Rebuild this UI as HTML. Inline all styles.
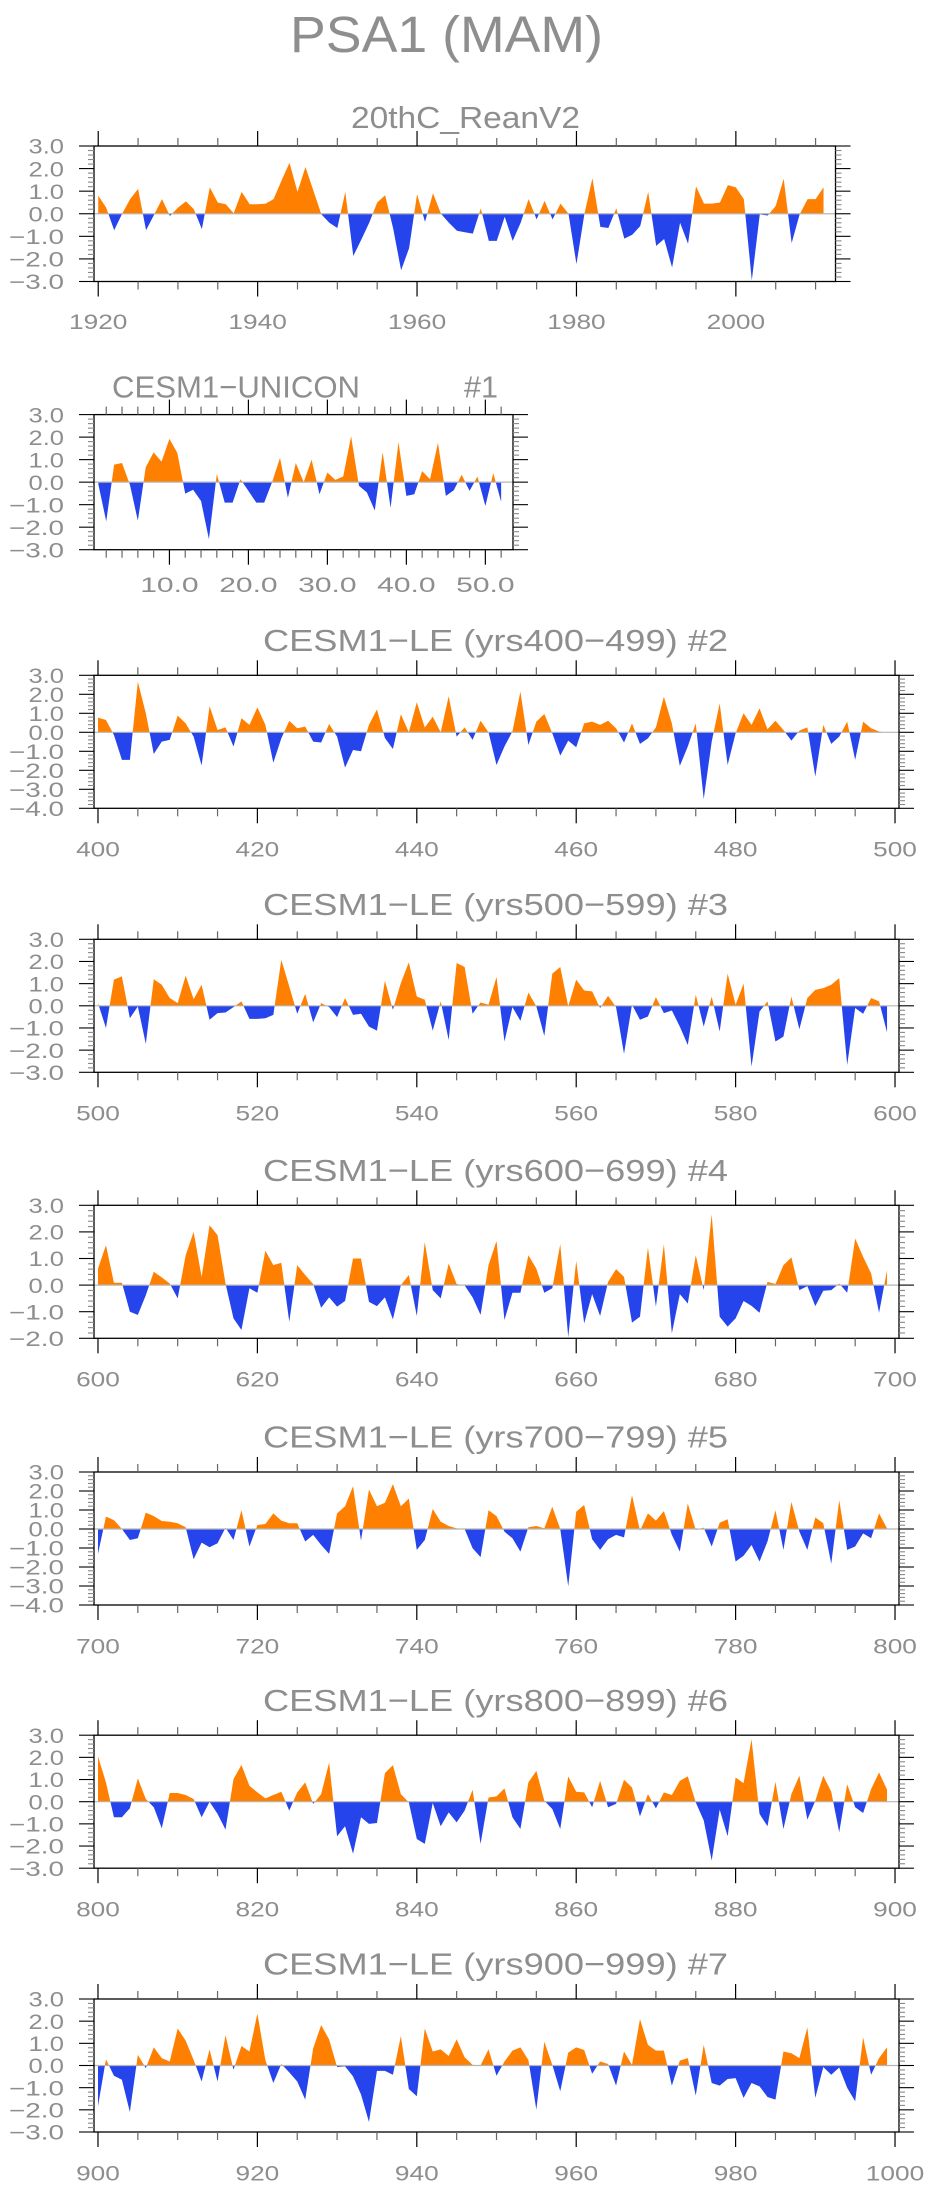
<!DOCTYPE html>
<html>
<head>
<meta charset="utf-8">
<style>
  html,body{margin:0;padding:0;background:#fff;}
  svg{display:block;}
  text{font-family:"Liberation Sans",sans-serif;fill:#8e8e8e;}
</style>
</head>
<body>
<svg id="fig" width="932" height="2194" viewBox="0 0 932 2194" xmlns="http://www.w3.org/2000/svg">
  <text x="290" y="52" font-size="51" textLength="313" lengthAdjust="spacingAndGlyphs" fill="#9a9a9a">PSA1  (MAM)</text>
</svg>
<script>
// ---------- data ----------
const reanStart = 1920;
const reanValues = [0.8,0.27,-0.73,0.0,0.65,1.1,-0.73,-0.05,0.65,-0.1,
0.27,0.55,0.2,-0.68,1.17,0.5,0.42,0.02,0.97,0.42,
0.42,0.45,0.65,1.47,2.26,0.97,2.07,1.02,-0.03,-0.4,
-0.63,0.97,-1.87,-1.15,-0.4,0.5,0.82,-0.65,-2.5,-1.53,
0.87,-0.36,0.91,0.0,-0.4,-0.75,-0.82,-0.88,0.24,-1.2,
-1.2,-0.13,-1.2,-0.4,0.65,-0.25,0.57,-0.25,0.45,0.0,
-2.23,0.0,1.57,-0.58,-0.63,0.24,-1.1,-0.93,-0.55,0.97,
-1.42,-1.12,-2.38,-0.4,-1.33,1.21,0.45,0.45,0.5,1.27,
1.17,0.65,-2.95,-0.03,-0.08,0.35,1.55,-1.3,-0.03,0.65,0.65,1.17];
const reanTicks = [1920,1940,1960,1980,2000];

const uniconStart = 1;
const uniconValues = [-0.1,-1.74,0.78,0.85,-0.12,-1.71,0.66,1.32,0.91,1.92,
1.3,-0.51,-0.34,-0.84,-2.53,0.36,-0.91,-0.91,0.13,-0.39,
-0.91,-0.91,0,1.08,-0.69,0.85,0,1.0,-0.54,0.43,
0.1,0.25,2.04,-0.16,-0.46,-1.26,1.33,-1.14,1.78,-0.61,
-0.54,0.49,0.13,1.75,-0.61,-0.36,0.33,-0.39,0.25,-1.06,0.4,-0.87];
const uniconTicks = [10,20,30,40,50];
const uniconTickLabels = ["10.0","20.0","30.0","40.0","50.0"];

const le2Values = [0.77,0.65,-0.14,-1.45,-1.45,2.66,1.0,-1.14,-0.49,-0.4,
0.88,0.47,-0.23,-1.75,1.38,0.12,0.26,-0.75,0.74,0.39,
1.31,0.39,-1.6,-0.32,0.6,0.21,0.3,-0.49,-0.54,0.44,
-0.23,-1.86,-0.93,-1.0,0.4,1.2,-0.3,-0.88,0.95,0.0,
1.58,0.25,0.82,0.0,1.9,-0.23,0.26,-0.4,0.61,0.0,
-1.72,-0.75,0.05,2.14,-0.67,0.56,0.96,-0.05,-1.23,-0.44,
-0.79,0.47,0.56,0.39,0.61,0.21,-0.54,0.47,-0.61,-0.32,
0.26,1.87,0.47,-1.77,-0.75,0.47,-3.52,-0.49,1.52,-1.72,
-0.05,1.0,0.39,1.26,0.16,0.61,0.12,-0.44,0.09,0.26,
-2.33,0.39,-0.61,-0.23,0.56,-1.45,0.56,0.21,0.04,-0.02];
const le3Values = [0.12,-1.0,1.18,1.33,-0.56,-0.03,-1.72,1.2,0.95,0.35,
0.12,1.36,0.3,0.95,-0.63,-0.33,-0.3,-0.06,0.2,-0.59,
-0.59,-0.56,-0.41,2.08,0.87,-0.36,0.54,-0.75,0.12,-0.06,
-0.51,0.35,-0.41,-0.36,-0.94,-1.12,1.13,-0.18,1.03,1.96,
0.42,0.27,-1.12,0.2,-1.54,1.93,1.75,-0.36,0.15,0.05,
1.3,-1.61,-0.06,-0.68,0.6,-0.03,-1.36,1.45,1.75,-0.03,
1.18,0.69,0.65,-0.1,0.45,-0.06,-2.17,0.05,-0.63,-0.48,
0.39,-0.33,-0.21,-0.94,-1.77,0.5,-0.94,0.42,-1.16,1.45,
0.05,1.0,-2.74,-0.26,0.2,-1.61,-1.39,0.42,-1.06,0.35,
0.72,0.8,0.95,1.25,-2.67,-0.1,-0.36,0.35,0.2,-1.2];
const le4Values = [0.62,1.5,0.09,0.09,-1.0,-1.12,-0.38,0.5,0.29,0.06,
-0.5,1.12,2.0,0.31,2.25,1.88,0.06,-1.25,-1.69,-0.12,
-0.29,1.29,0.75,0.84,-1.38,0.75,0.38,0.04,-0.85,-0.46,
-0.81,-0.6,1.0,1.0,-0.63,-0.79,-0.46,-1.29,0.0,0.38,
-1.16,1.62,-0.19,-0.5,0.81,0.04,-0.01,-0.46,-1.12,0.75,
1.66,-1.31,-0.29,-0.29,1.12,0.62,-0.29,-0.12,1.54,-1.96,
0.91,-1.44,-0.34,-1.16,0.12,0.6,0.31,-1.41,-1.19,1.41,
-0.81,1.54,-1.81,-0.34,-0.69,1.12,-0.19,2.66,-1.19,-1.56,
-1.25,-0.6,-0.78,-1.04,0.12,0.04,0.75,1.04,-0.19,-0.04,
-0.79,-0.21,-0.19,0.06,-0.29,1.75,1.06,0.44,-1.04,0.56];
const le5Values = [-1.31,0.65,0.47,0.0,-0.58,-0.49,0.86,0.68,0.42,0.38,
0.3,0.09,-1.59,-0.72,-0.96,-0.75,0.07,-0.58,0.99,-0.92,
0.21,0.26,0.82,0.44,0.3,0.3,-0.66,-0.31,-0.84,-1.31,
0.82,1.2,2.25,-0.61,2.08,1.2,1.38,2.36,1.2,1.6,
-1.1,-0.58,1.05,0.38,0.16,0.03,0.0,-1.01,-1.48,0.99,
0.68,-0.14,-0.49,-1.19,0.09,0.16,0.03,1.17,0.0,-3.02,
0.91,1.26,-0.54,-1.1,-0.54,-0.31,-0.44,1.78,-0.09,0.82,
0.44,0.94,-0.31,-1.19,1.34,-0.05,0.07,-0.92,0.33,0.51,
-1.71,-1.41,-0.84,-1.71,-0.66,0.99,-1.1,1.43,-0.14,-1.1,
0.61,0.3,-1.83,1.52,-1.1,-0.92,-0.23,-0.49,0.82,0.03];
const le6Values = [2.04,0.87,-0.7,-0.7,-0.3,1.05,0.12,-0.25,-1.2,0.39,
0.39,0.3,0.12,-0.7,0.0,-0.55,-1.26,1.02,1.66,0.72,
0.42,0.15,0.3,0.45,-0.4,0.42,0.87,-0.1,0.34,1.77,
-1.56,-1.11,-2.35,-0.7,-1.0,-0.96,1.29,1.65,0.34,-0.03,
-1.68,-1.9,-0.06,-1.11,-0.48,-0.93,-0.4,0.54,-1.9,0.19,
0.24,0.6,-0.7,-1.23,0.87,1.39,0.04,-0.33,-1.23,1.14,
0.45,0.42,-0.25,0.94,-0.25,-0.1,0.99,0.64,-0.66,0.34,
-0.3,0.42,0.3,0.94,1.14,-0.03,-0.85,-2.65,-0.36,-1.56,
1.09,0.84,2.82,-0.55,-1.11,0.9,-1.23,0.34,1.17,-0.81,
0.04,1.17,0.45,-1.38,0.79,-0.25,-0.51,0.57,1.32,0.54];
const le7Values = [-1.84,0.28,-0.46,-0.64,-2.1,0.48,-0.12,0.82,0.33,0.18,
1.67,1.12,0.25,-0.72,0.73,-0.72,1.37,-0.19,0.88,0.63,
2.34,0.25,-0.79,0.07,-0.31,-0.72,-1.54,0.78,1.82,1.18,
-0.07,-0.04,-0.49,-1.31,-2.55,-0.24,-0.24,-0.42,1.33,-1.06,
-1.39,1.67,0.63,0.73,0.43,1.18,0.37,0.03,0.01,0.73,
-0.46,0.18,0.67,0.82,0.25,-1.99,1.07,0.03,-1.16,0.58,
0.82,0.7,-0.37,0.18,0.07,-0.91,0.63,0.03,2.09,0.93,
0.67,0.67,-0.91,0.22,0.33,-1.36,0.93,-0.79,-0.91,-0.61,
-0.57,-1.46,-0.79,-0.94,-1.42,-1.54,0.63,0.55,0.33,1.72,
-1.46,-0.07,-0.42,-0.09,-1.01,-1.61,1.27,-0.42,0.33,0.82];
const leStarts = [400,500,600,700,800,900];
const leTitles = ["CESM1\u2212LE (yrs400\u2212499) #2","CESM1\u2212LE (yrs500\u2212599) #3","CESM1\u2212LE (yrs600\u2212699) #4","CESM1\u2212LE (yrs700\u2212799) #5","CESM1\u2212LE (yrs800\u2212899) #6","CESM1\u2212LE (yrs900\u2212999) #7"];
const leYMin = [-4,-3,-2,-4,-3,-3];
const leYMax = [3,3,3,3,3,3];

// ---------- drawing ----------
const NS = "http://www.w3.org/2000/svg";
const svg = document.getElementById("fig");
const ORANGE = "#ff8000", BLUE = "#2644eb";
let clipId = 0;

function mk(tag, attrs, parent) {
  const e = document.createElementNS(NS, tag);
  for (const k in attrs) e.setAttribute(k, attrs[k]);
  (parent || svg).appendChild(e);
  return e;
}
function fmtY(v) {
  const s = Math.abs(v).toFixed(1);
  return v < 0 ? "\u2212" + s : s;
}

function drawPanel(cfg, name) {
  const g = mk("g", {});
  
  
  const {x0, x1, top, bottom, xmin, xmax, ymin, ymax, start, values} = cfg;
  const sx = x => x0 + (x - xmin) / (xmax - xmin) * (x1 - x0);
  const sy = v => top + (ymax - v) / (ymax - ymin) * (bottom - top);
  const zy = sy(0);

  // area path
  let d = "M" + sx(start).toFixed(2) + "," + zy.toFixed(2);
  values.forEach((v, i) => { d += " L" + sx(start + i).toFixed(2) + "," + sy(v).toFixed(2); });
  d += " L" + sx(start + values.length - 1).toFixed(2) + "," + zy.toFixed(2) + " Z";

  const cpId = "cp" + (clipId++), cnId = "cn" + (clipId++);
  const defs = mk("defs", {}, g);
  const cp = mk("clipPath", {id: cpId}, defs);
  mk("rect", {x: x0, y: top, width: x1 - x0, height: zy - top}, cp);
  const cn = mk("clipPath", {id: cnId}, defs);
  mk("rect", {x: x0, y: zy, width: x1 - x0, height: bottom - zy}, cn);

  const pos = mk("path", {d: d, fill: ORANGE, "clip-path": "url(#" + cpId + ")"}, g);
  
  
  const neg = mk("path", {d: d, fill: BLUE, "clip-path": "url(#" + cnId + ")"}, g);
  
  

  const zl = mk("line", {x1: x0, x2: x1, y1: zy, y2: zy, stroke: "#b5b5b5", "stroke-width": 1.2}, g);
  
  

  const frame = mk("rect", {x: x0, y: top, width: x1 - x0, height: bottom - top, fill: "none", stroke: "#000", "stroke-width": 1.3}, g);
  
  

  // x ticks
  for (let t = cfg.minorStart; t <= xmax; t += cfg.minorStep) {
    const isMajor = cfg.majors.indexOf(t) >= 0;
    const L = isMajor ? 15 : 8;
    const col = isMajor ? "#000" : "#666";
    const X = sx(t);
    mk("line", {x1: X, x2: X, y1: top, y2: top - L, stroke: col, "stroke-width": 1.2}, g);
    mk("line", {x1: X, x2: X, y1: bottom, y2: bottom + L, stroke: col, "stroke-width": 1.2}, g);
  }
  // y ticks
  for (let k = Math.round(ymin * 5); k <= Math.round(ymax * 5); k++) {
    const v = k / 5, Y = sy(v);
    const isMajor = k % 5 === 0;
    const L = isMajor ? 15 : 6;
    const col = isMajor ? "#000" : "#888";
    mk("line", {x1: x0, x2: x0 - L, y1: Y, y2: Y, stroke: col, "stroke-width": 1.1}, g);
    mk("line", {x1: x1, x2: x1 + L, y1: Y, y2: Y, stroke: col, "stroke-width": 1.1}, g);
    if (isMajor) {
      const lbl = mk("text", {x: 64, y: Y + 7.7, "font-size": 21, "text-anchor": "end",
        textLength: v < 0 ? 55 : 35.5, lengthAdjust: "spacingAndGlyphs"}, g);
      lbl.textContent = fmtY(v);
      
      
    }
  }
  // x labels
  cfg.majors.forEach((t, i) => {
    const s = cfg.labels[i];
    const w = s.length * 14.6;
    const lbl = mk("text", {x: sx(t), y: cfg.labelY, "font-size": 21, "text-anchor": "middle",
      textLength: w, lengthAdjust: "spacingAndGlyphs"}, g);
    lbl.textContent = s;
    
    
  });
  return g;
}

// Panel 1: 20thC_ReanV2
drawPanel({x0: 94, x1: 835.5, top: 146, bottom: 281.5, xmin: 1919.47, xmax: 2012.5, ymin: -3, ymax: 3,
  start: reanStart, values: reanValues, minorStart: 1920, minorStep: 5,
  majors: reanTicks, labels: reanTicks.map(String), labelY: 329}, 'panel-20thc-reanv2');
let t1 = mk("text", {x: 351, y: 128, "font-size": 31, textLength: 229, lengthAdjust: "spacingAndGlyphs"});
t1.textContent = "20thC_ReanV2";



// Panel 2: CESM1-UNICON
drawPanel({x0: 94, x1: 513, top: 414.6, bottom: 549.7, xmin: 0.45, xmax: 53.5, ymin: -3, ymax: 3,
  start: uniconStart, values: uniconValues, minorStart: 2, minorStep: 2,
  majors: uniconTicks, labels: uniconTickLabels, labelY: 592}, 'panel-cesm1-unicon');
let t2 = mk("text", {x: 112, y: 397.6, "font-size": 31, textLength: 248, lengthAdjust: "spacingAndGlyphs"});
t2.textContent = "CESM1\u2212UNICON";


let t2b = mk("text", {x: 464, y: 397.6, "font-size": 31, textLength: 34, lengthAdjust: "spacingAndGlyphs"});
t2b.textContent = "#1";



// LE panels
const leTops = [675.3, 939.3, 1205.3, 1472, 1735.2, 1999];
const leSeries = [le2Values, le3Values, le4Values, le5Values, le6Values, le7Values];
leSeries.forEach((vals, i) => {
  const s0 = leStarts[i];
  const top = leTops[i], bottom = top + 133;
  const majors = [s0, s0 + 20, s0 + 40, s0 + 60, s0 + 80, s0 + 100];
  drawPanel({x0: 94, x1: 899, top: top, bottom: bottom, xmin: s0 - 0.5, xmax: s0 + 100.5,
    ymin: leYMin[i], ymax: leYMax[i], start: s0, values: vals, minorStart: s0, minorStep: 5,
    majors: majors, labels: majors.map(String), labelY: bottom + 48.3}, 'panel-cesm1-le-' + (i + 2));
  const tt = mk("text", {x: 263, y: top - 24.4, "font-size": 31, textLength: 465, lengthAdjust: "spacingAndGlyphs"});
  tt.textContent = leTitles[i];
  
  
});
</script>
</body>
</html>
